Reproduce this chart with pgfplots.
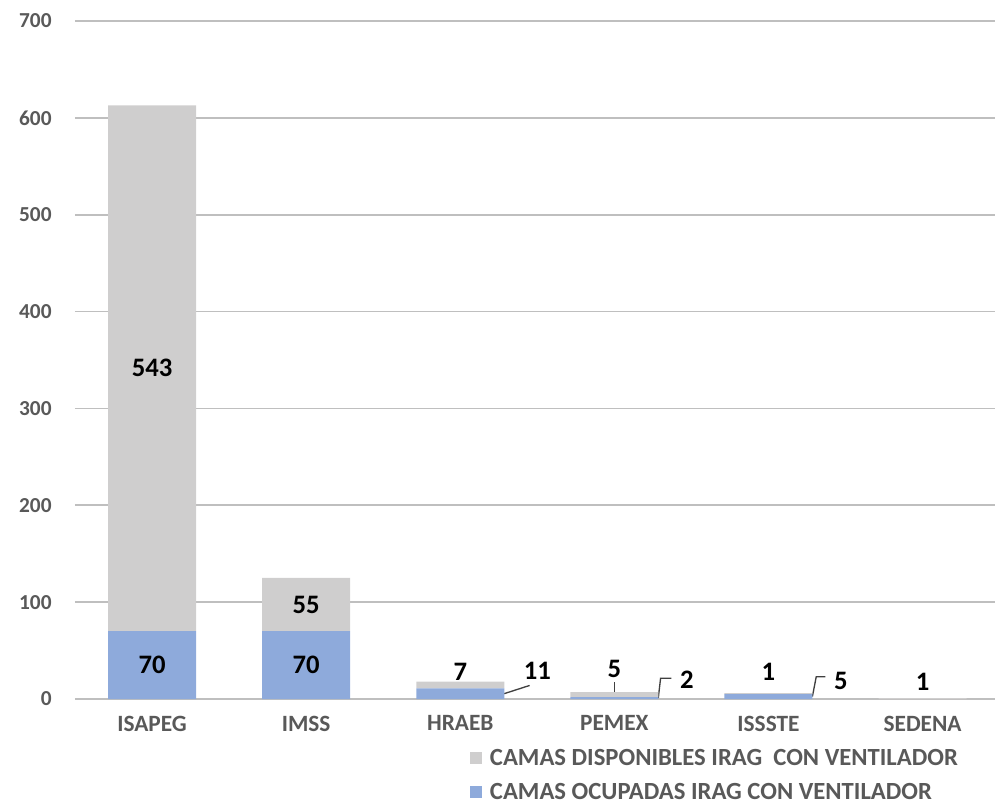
\documentclass[border=0pt]{standalone}
\usepackage{fontspec}
\setmainfont{Carlito}
\usepackage{pgfplots}
\pgfplotsset{compat=1.18}

\definecolor{dispo}{HTML}{CFCECE}
\definecolor{ocup}{HTML}{8EAADB}
\definecolor{gridc}{HTML}{BFBFBF}
\definecolor{txt}{HTML}{595959}
\definecolor{lead}{HTML}{404040}

\tikzset{lbl/.style={font=\fontsize{20}{22}\selectfont\bfseries, text=black}}

\begin{document}
\begin{tikzpicture}
\begin{axis}[
    scale only axis,
    width=690pt, height=508.5pt,
    ybar stacked,
    bar width=0.571,
    xmin=-0.5, xmax=5.47,
    ymin=0, ymax=700,
    ytick={0,100,...,700},
    xtick=data,
    xticklabels={ISAPEG,IMSS,HRAEB,PEMEX,ISSSTE,SEDENA},
    axis line style={draw=none},
    major tick length=0pt,
    ymajorgrids,
    grid style={gridc, line width=1.2pt},
    /pgf/number format/assume math mode=true,
    yticklabel style={font=\fontsize{16}{18}\selectfont\bfseries, text=txt, xshift=-14pt},
    xticklabel style={font=\fontsize{17.5}{20}\selectfont\bfseries, text=txt, yshift=-9pt},
    clip=false,
    reverse legend,
    legend style={at={(0.429,-0.070)}, anchor=north west, draw=none, fill=none,
        font=\fontsize{18.5}{20}\selectfont\bfseries, text=txt,
        row sep=7.5pt, column sep=4pt, inner sep=0pt},
    legend cell align=left,
]
\addplot[fill=ocup, draw=none,
    legend image code/.code={\fill[ocup] (0pt,-4.5pt) rectangle (9pt,4.5pt);}]
    coordinates {(0,70) (1,70) (2,11) (3,2) (4,5) (5,0)};
\addplot[fill=dispo, draw=none,
    legend image code/.code={\fill[dispo] (0pt,-4.5pt) rectangle (9pt,4.5pt);}]
    coordinates {(0,543) (1,55) (2,7) (3,5) (4,1) (5,1)};
\legend{CAMAS OCUPADAS IRAG CON VENTILADOR, CAMAS DISPONIBLES IRAG\ \ CON VENTILADOR}

% label anchors, drawn after the axis so they sit on top of the bars
\coordinate (l1) at (axis cs:0,341.5);
\coordinate (l2) at (axis cs:0,35);
\coordinate (l3) at (axis cs:1,97.5);
\coordinate (l4) at (axis cs:1,35);
\coordinate (l5) at (axis cs:2,28);
\coordinate (l6) at (axis cs:2.5,29);
\coordinate (l7) at (axis cs:3,31);
\coordinate (l8) at (axis cs:3.47,20);
\coordinate (l9) at (axis cs:4,28);
\coordinate (l10) at (axis cs:4.47,19);
\coordinate (l11) at (axis cs:5,18);
\draw[lead, line width=1pt] (axis cs:2.285,5.5) -- (axis cs:2.45,14);
\draw[lead, line width=1pt] (axis cs:3,6) -- (axis cs:3,18);
\draw[lead, line width=1pt] (axis cs:3.285,1) -- (axis cs:3.30,21.5) -- (axis cs:3.37,21.5);
\draw[lead, line width=1pt] (axis cs:4.285,2.5) -- (axis cs:4.31,23) -- (axis cs:4.37,23);
\end{axis}
\node[lbl] at (l1) {543};
\node[lbl] at (l2) {70};
\node[lbl] at (l3) {55};
\node[lbl] at (l4) {70};
\node[lbl] at (l5) {7};
\node[lbl] at (l6) {11};
\node[lbl] at (l7) {5};
\node[lbl] at (l8) {2};
\node[lbl] at (l9) {1};
\node[lbl] at (l10) {5};
\node[lbl] at (l11) {1};
\pgfresetboundingbox
\path[use as bounding box] (-56.25pt,-78.75pt) rectangle (690pt,524.25pt);
\end{tikzpicture}
\end{document}
